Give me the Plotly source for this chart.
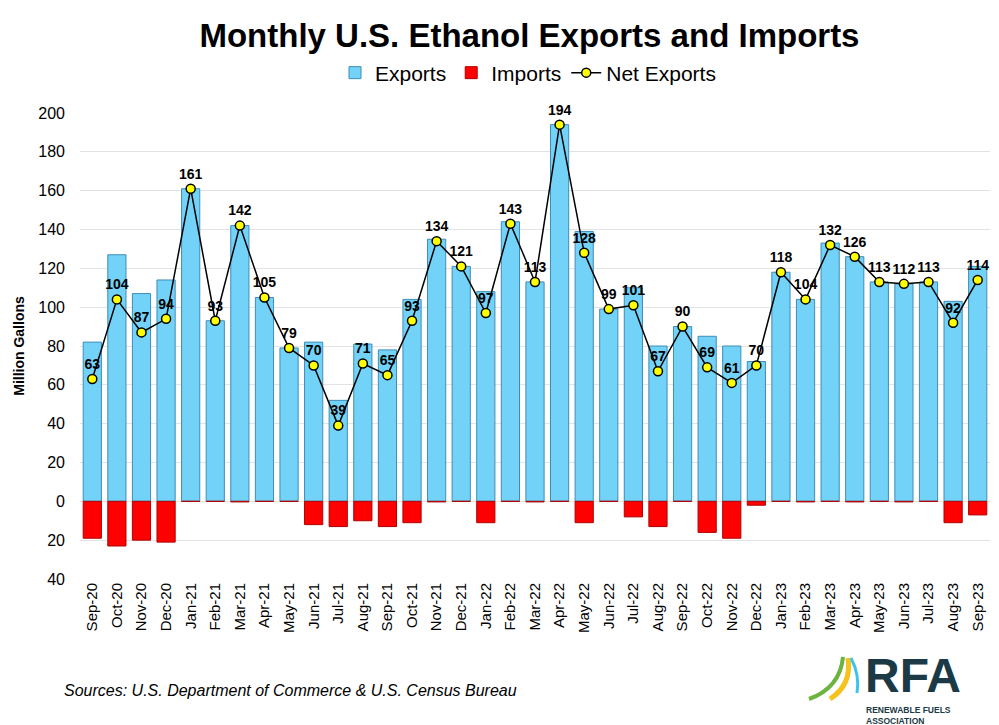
import plotly.graph_objects as go

months = ["Sep-20","Oct-20","Nov-20","Dec-20","Jan-21","Feb-21","Mar-21","Apr-21","May-21","Jun-21",
          "Jul-21","Aug-21","Sep-21","Oct-21","Nov-21","Dec-21","Jan-22","Feb-22","Mar-22","Apr-22",
          "May-22","Jun-22","Jul-22","Aug-22","Sep-22","Oct-22","Nov-22","Dec-22","Jan-23","Feb-23",
          "Mar-23","Apr-23","May-23","Jun-23","Jul-23","Aug-23","Sep-23"]
exports = [82,127,107,114,161,93,142,105,79,82,
           52,81,78,104,135,121,108,144,113,194,
           139,99,110,80,90,85,80,72,118,104,
           133,126,113,112,113,103,121]
imports = [19,23,20,21,0,0,0.3,0,0,12,
           13,10,13,11,0.3,0,11,0,0.3,0,
           11,0,8,13,0,16,19,2,0,0.3,
           0,0.3,0,0.3,0,11,7]
net_exports = [63,104,87,94,161,93,142,105,79,70,
               39,71,65,93,134,121,97,143,113,194,
               128,99,101,67,90,69,61,70,118,104,
               132,126,113,112,113,92,114]
ytick_vals = [-40,-20,0,20,40,60,80,100,120,140,160,180,200]
ytick_text = ["40","20","0","20","40","60","80","100","120","140","160","180","200"]

FONT = "Liberation Sans, Arial, sans-serif"
W, H = 999, 725
L, R, T, B = 80, 9, 113, 146

def px(x): return (x - L) / (W - L - R)
def py(y): return (H - B - y) / (H - T - B)

fig = go.Figure()
fig.add_trace(go.Bar(x=months, y=exports, name="Exports",
                     marker=dict(color="#72D2F7", line=dict(color="#3F8DB8", width=1)),
                     width=0.74))
fig.add_trace(go.Bar(x=months, y=[-v for v in imports], name="Imports",
                     marker=dict(color="#FF0000", line=dict(color="#B00000", width=1)),
                     width=0.74))
fig.add_trace(go.Scatter(x=months, y=net_exports, name="Net Exports", mode="lines+markers+text",
                         line=dict(color="black", width=1.5), cliponaxis=False,
                         marker=dict(color="#FFFF00", size=9, line=dict(color="black", width=1.5)),
                         text=["<b>%d</b>" % v for v in net_exports], textposition="top center",
                         textfont=dict(family=FONT, size=14, color="black")))

fig.update_layout(
    width=W, height=H, barmode="overlay",
    margin=dict(l=L, r=R, t=T, b=B, autoexpand=False),
    plot_bgcolor="white", paper_bgcolor="white",
    font=dict(family=FONT, color="black"),
    title=dict(text="<b>Monthly U.S. Ethanol Exports and Imports</b>", x=0.53, xanchor="center",
               y=1 - 35 / H, yanchor="middle", font=dict(size=33, family=FONT, color="black")),
    legend=dict(orientation="h", x=px(528), xanchor="center", y=1 - 73 / H, yref="container",
                yanchor="middle", font=dict(size=21, family=FONT), itemwidth=30,
                traceorder="normal", bgcolor="rgba(0,0,0,0)"),
    showlegend=True,
)
fig.update_yaxes(range=[-40, 200], tickvals=ytick_vals, ticktext=ytick_text, automargin=False,
                 tickfont=dict(size=16, family=FONT), showgrid=True, gridcolor="#E3E3E3",
                 gridwidth=1, zeroline=False, ticks="", ticklabelstandoff=14,
                 title=dict(text="<b>Million Gallons</b>", font=dict(size=14, family=FONT), standoff=10))
fig.update_xaxes(tickangle=-90, tickfont=dict(size=15, family=FONT), showgrid=False, automargin=False,
                 showline=False, ticks="", categoryorder="array", categoryarray=months,
                 range=[-0.5, len(months) - 0.5])

fig.add_annotation(text="<i>Sources: U.S. Department of Commerce & U.S. Census Bureau</i>",
                   xref="paper", yref="paper", x=px(62), y=py(690), xanchor="left", yanchor="middle",
                   showarrow=False, font=dict(size=16, family=FONT, color="black"))

# RFA logo
logo_col = "#1B3A45"
fig.add_annotation(text="<b>RFA</b>", xref="paper", yref="paper", x=px(863), y=py(676),
                   xanchor="left", yanchor="middle", showarrow=False,
                   font=dict(size=48, family=FONT, color=logo_col))
fig.add_annotation(text="<b>RENEWABLE FUELS<br>ASSOCIATION</b>", xref="paper", yref="paper",
                   x=px(864), y=py(715), xanchor="left", yanchor="middle", showarrow=False, align="left",
                   font=dict(size=8.5, family=FONT, color=logo_col))

def swoosh(p0, c, p1, color, width):
    path = "M {} {} Q {} {} {} {}".format(px(p0[0]), py(p0[1]), px(c[0]), py(c[1]), px(p1[0]), py(p1[1]))
    fig.add_shape(type="path", path=path, xref="paper", yref="paper",
                  line=dict(color=color, width=width), layer="above")

swoosh((809, 699), (840, 688), (843, 657), "#6DB33F", 4)
swoosh((830, 699), (852, 685), (848, 658), "#F6C21C", 5)
swoosh((857, 693), (860, 675), (851, 658), "#3CC3EE", 3)

fig.write_html("out.html")
